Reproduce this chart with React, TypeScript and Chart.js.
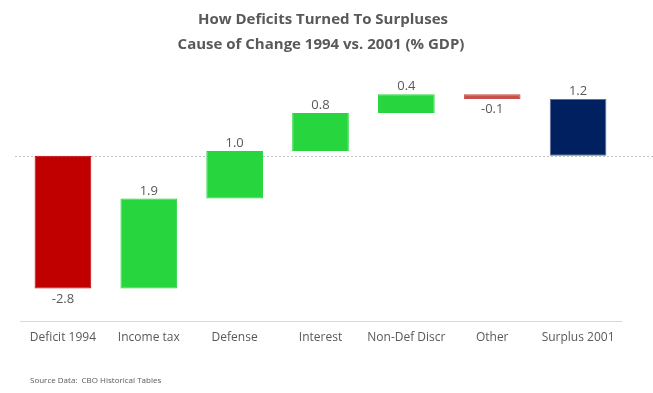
import React, { useEffect, useRef } from "react";
import { Chart, registerables } from "chart.js";

Chart.register(...registerables);

const categories = ["Deficit 1994", "Income tax", "Defense", "Interest", "Non-Def Discr", "Other", "Surplus 2001"];
const changes = [-2.8, 1.9, 1.0, 0.8, 0.4, -0.1, 1.2];
const kinds = ["total", "step", "step", "step", "step", "step", "total"];
const barColors = ["#C00000", "#27D63F", "#27D63F", "#27D63F", "#27D63F", "#C8504A", "#002060"];
const titleLines = ["How Deficits Turned To Surpluses", "Cause of Change 1994 vs. 2001 (% GDP)"];
const sourceText = "Source Data:  CBO Historical Tables";

const FONT = "'Open Sans', 'Liberation Sans', sans-serif";

function buildRanges() {
  let run = 0;
  return changes.map((v, i) => {
    if (kinds[i] === "total") {
      if (i === 0) run = v;
      return [0, v];
    }
    const start = run;
    run = +(run + v).toFixed(4);
    return [start, run];
  });
}

export default function App() {
  const ref = useRef<HTMLCanvasElement | null>(null);
  useEffect(() => {
    document.body.style.margin = "0";
    const ranges = buildRanges();
    const overlay = {
      id: "overlay",
      beforeDatasetsDraw(chart: any) {
        const { ctx, scales } = chart;
        const y0 = scales.y.getPixelForValue(0);
        ctx.save();
        ctx.strokeStyle = "#BFBFBF";
        ctx.lineWidth = 1;
        ctx.setLineDash([2, 2]);
        ctx.beginPath();
        ctx.moveTo(15, Math.round(y0) + 0.5);
        ctx.lineTo(653, Math.round(y0) + 0.5);
        ctx.stroke();
        ctx.restore();
      },
      afterDraw(chart: any) {
        const { ctx } = chart;
        ctx.save();
        ctx.fillStyle = "#595959";
        ctx.textAlign = "center";
        ctx.textBaseline = "middle";
        ctx.font = `bold 15px ${FONT}`;
        ctx.fillText(titleLines[0], 323, 20);
        ctx.fillText(titleLines[1], 321, 45);
        const meta = chart.getDatasetMeta(0);
        ctx.font = `13px ${FONT}`;
        meta.data.forEach((bar: any, i: number) => {
          const v = changes[i];
          const r = ranges[i];
          const hi = Math.max(r[0], r[1]);
          const lo = Math.min(r[0], r[1]);
          const label = v.toFixed(1);
          if (v >= 0) {
            const yp = chart.scales.y.getPixelForValue(hi);
            ctx.textBaseline = "bottom";
            ctx.fillText(label, bar.x, yp - 1);
          } else {
            const yp = chart.scales.y.getPixelForValue(lo);
            ctx.textBaseline = "top";
            ctx.fillText(label, bar.x, yp + 4);
          }
        });
        ctx.textAlign = "left";
        ctx.textBaseline = "middle";
        ctx.font = `8px ${FONT}`;
        ctx.fillText(sourceText, 30, 381);
        ctx.restore();
      },
    };
    const chart = new Chart(ref.current as HTMLCanvasElement, {
      type: "bar",
      data: {
        labels: categories,
        datasets: [
          {
            data: ranges as any,
            backgroundColor: barColors,
            borderColor: barColors.map((c, i) => (i === 6 ? "#5B6E99" : c)),
            borderWidth: 1,
            borderSkipped: false,
            barPercentage: 0.66,
            categoryPercentage: 1,
          },
        ],
      },
      options: {
        animation: false,
        responsive: false,
        maintainAspectRatio: false,
        layout: { padding: { top: 61, left: 20, right: 32, bottom: 39 } },
        plugins: { legend: { display: false }, tooltip: { enabled: false }, title: { display: false } },
        scales: {
          x: {
            grid: { display: false, drawTicks: false },
            border: { display: true, color: "#D9D9D9" },
            ticks: { color: "#595959", font: { family: FONT, size: 12 }, padding: 9 },
          },
          y: { display: false, min: -3.5, max: 2 },
        },
      },
      plugins: [overlay],
    });
    return () => chart.destroy();
  }, []);
  return (
    <div style={{ width: 653, height: 393 }}>
      <canvas ref={ref} width={653} height={393} style={{ width: 653, height: 393, display: "block" }} />
    </div>
  );
}
